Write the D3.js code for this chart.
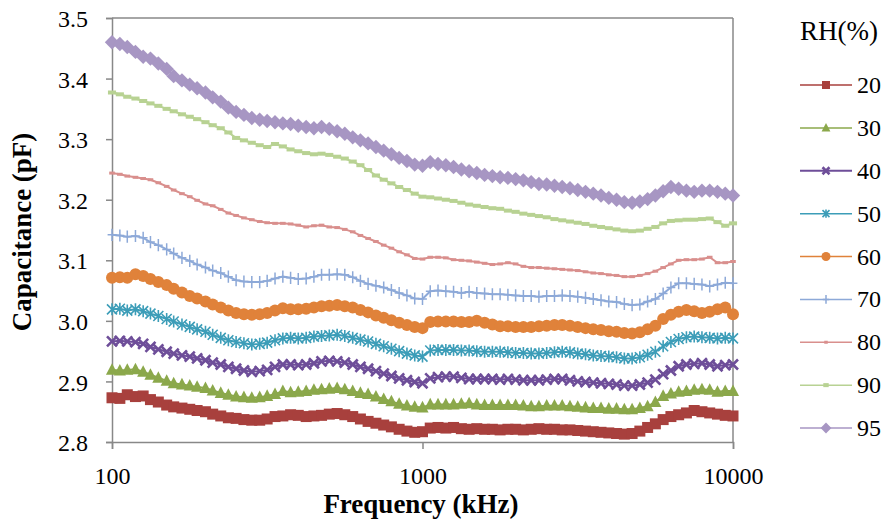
<!DOCTYPE html>
<html>
<head>
<meta charset="utf-8">
<script src="https://cdn.jsdelivr.net/npm/d3@7"></script>
<style>
  html, body { margin: 0; padding: 0; background: #fff; }
</style>
</head>
<body>
<svg id="chart" width="887" height="524"></svg>
<script>
// Frequency sweep (kHz), logarithmically spaced
const frequency = [100,106,112,119,126,133,141,150,158,168,178,188,200,211,224,237,251,266,282,299,316,335,355,376,398,422,447,473,501,531,562,596,631,668,708,750,794,841,891,944,1000,1059,1122,1189,1259,1334,1413,1496,1585,1679,1778,1884,1995,2113,2239,2371,2512,2661,2818,2985,3162,3350,3548,3758,3981,4217,4467,4732,5012,5309,5623,5957,6310,6683,7079,7499,7943,8414,8913,9441,10000];

// Capacitance (pF) at each relative humidity
const rh20 = [2.873,2.872,2.878,2.875,2.876,2.870,2.866,2.861,2.858,2.856,2.854,2.852,2.850,2.846,2.843,2.840,2.839,2.837,2.836,2.836,2.838,2.842,2.843,2.845,2.844,2.842,2.843,2.844,2.846,2.847,2.845,2.842,2.838,2.834,2.831,2.828,2.825,2.821,2.818,2.816,2.817,2.823,2.824,2.823,2.824,2.822,2.821,2.822,2.821,2.821,2.820,2.821,2.821,2.820,2.821,2.822,2.821,2.821,2.820,2.820,2.819,2.818,2.817,2.816,2.815,2.814,2.813,2.814,2.818,2.824,2.830,2.837,2.842,2.845,2.848,2.852,2.850,2.848,2.846,2.844,2.843];
const rh30 = [2.919,2.918,2.919,2.920,2.916,2.911,2.906,2.901,2.897,2.895,2.893,2.891,2.889,2.885,2.881,2.878,2.875,2.874,2.873,2.874,2.876,2.879,2.884,2.882,2.883,2.884,2.886,2.887,2.888,2.889,2.887,2.884,2.881,2.879,2.875,2.871,2.867,2.863,2.860,2.858,2.857,2.862,2.862,2.862,2.862,2.863,2.864,2.862,2.861,2.861,2.861,2.861,2.861,2.860,2.859,2.859,2.860,2.860,2.860,2.859,2.858,2.857,2.856,2.856,2.855,2.855,2.854,2.854,2.856,2.859,2.866,2.876,2.880,2.883,2.884,2.886,2.887,2.886,2.883,2.884,2.884];
const rh40 = [2.966,2.967,2.966,2.965,2.962,2.957,2.953,2.949,2.946,2.943,2.941,2.938,2.935,2.931,2.928,2.924,2.921,2.918,2.916,2.917,2.919,2.924,2.928,2.928,2.927,2.928,2.930,2.933,2.934,2.933,2.931,2.928,2.924,2.921,2.917,2.913,2.909,2.905,2.902,2.899,2.897,2.905,2.907,2.908,2.908,2.906,2.904,2.904,2.904,2.904,2.903,2.904,2.903,2.902,2.902,2.902,2.903,2.904,2.904,2.902,2.900,2.899,2.898,2.897,2.896,2.895,2.893,2.893,2.895,2.898,2.903,2.912,2.918,2.925,2.928,2.929,2.930,2.928,2.925,2.927,2.928];
const rh50 = [3.019,3.020,3.017,3.019,3.016,3.012,3.008,3.003,2.999,2.994,2.990,2.986,2.982,2.977,2.972,2.968,2.965,2.963,2.961,2.962,2.964,2.968,2.971,2.972,2.971,2.972,2.974,2.975,2.976,2.977,2.975,2.972,2.969,2.966,2.962,2.958,2.954,2.950,2.946,2.943,2.941,2.951,2.952,2.952,2.952,2.951,2.951,2.950,2.949,2.949,2.949,2.948,2.947,2.947,2.946,2.946,2.947,2.948,2.949,2.948,2.946,2.945,2.943,2.942,2.941,2.940,2.938,2.938,2.940,2.944,2.949,2.958,2.965,2.970,2.973,2.974,2.973,2.972,2.971,2.972,2.971];
const rh60 = [3.071,3.072,3.071,3.077,3.074,3.069,3.064,3.059,3.053,3.047,3.041,3.037,3.032,3.027,3.022,3.017,3.013,3.011,3.010,3.011,3.013,3.017,3.021,3.019,3.019,3.020,3.022,3.024,3.025,3.026,3.024,3.022,3.018,3.014,3.009,3.005,3.001,2.997,2.993,2.990,2.988,2.998,2.999,2.999,2.999,2.998,2.998,3.000,2.997,2.994,2.991,2.991,2.990,2.990,2.990,2.991,2.992,2.993,2.993,2.992,2.990,2.988,2.986,2.985,2.983,2.982,2.980,2.979,2.981,2.986,2.992,3.003,3.010,3.015,3.018,3.016,3.013,3.015,3.019,3.022,3.011];
const rh70 = [3.142,3.141,3.139,3.140,3.137,3.130,3.125,3.118,3.111,3.104,3.099,3.093,3.088,3.083,3.079,3.073,3.067,3.065,3.064,3.064,3.066,3.070,3.073,3.071,3.069,3.070,3.073,3.076,3.076,3.077,3.076,3.072,3.066,3.061,3.058,3.055,3.051,3.046,3.042,3.037,3.036,3.049,3.050,3.049,3.048,3.046,3.048,3.046,3.045,3.044,3.044,3.043,3.042,3.041,3.041,3.040,3.041,3.041,3.042,3.041,3.040,3.038,3.036,3.034,3.032,3.031,3.028,3.026,3.027,3.032,3.036,3.045,3.055,3.062,3.062,3.061,3.060,3.057,3.060,3.063,3.062];
const rh80 = [3.244,3.242,3.239,3.237,3.235,3.233,3.228,3.222,3.216,3.210,3.205,3.199,3.193,3.190,3.184,3.178,3.174,3.170,3.167,3.164,3.162,3.161,3.161,3.160,3.158,3.155,3.157,3.158,3.155,3.154,3.151,3.147,3.141,3.136,3.131,3.125,3.120,3.114,3.109,3.103,3.102,3.105,3.105,3.104,3.101,3.100,3.099,3.097,3.095,3.093,3.094,3.096,3.094,3.090,3.088,3.088,3.087,3.086,3.085,3.084,3.083,3.081,3.079,3.078,3.076,3.075,3.073,3.073,3.075,3.078,3.082,3.088,3.094,3.100,3.101,3.101,3.102,3.105,3.096,3.096,3.098];
const rh90 = [3.377,3.374,3.370,3.367,3.363,3.359,3.355,3.350,3.346,3.341,3.337,3.333,3.328,3.323,3.318,3.311,3.302,3.298,3.294,3.290,3.287,3.292,3.288,3.283,3.280,3.277,3.275,3.276,3.274,3.271,3.268,3.263,3.257,3.249,3.240,3.233,3.227,3.221,3.216,3.210,3.205,3.204,3.202,3.200,3.198,3.195,3.192,3.190,3.188,3.186,3.185,3.182,3.180,3.177,3.175,3.173,3.171,3.168,3.166,3.164,3.162,3.160,3.157,3.155,3.153,3.151,3.149,3.148,3.149,3.152,3.155,3.161,3.165,3.166,3.167,3.167,3.168,3.169,3.163,3.157,3.161];
const rh95 = [3.460,3.457,3.452,3.444,3.436,3.433,3.425,3.416,3.404,3.397,3.390,3.384,3.377,3.369,3.362,3.352,3.345,3.340,3.335,3.332,3.330,3.328,3.326,3.325,3.322,3.320,3.318,3.320,3.317,3.313,3.309,3.303,3.298,3.293,3.287,3.281,3.275,3.269,3.264,3.258,3.256,3.262,3.259,3.257,3.254,3.250,3.247,3.244,3.241,3.239,3.237,3.236,3.234,3.232,3.229,3.226,3.225,3.223,3.221,3.219,3.216,3.213,3.210,3.207,3.203,3.200,3.196,3.195,3.197,3.201,3.207,3.214,3.221,3.218,3.215,3.213,3.215,3.215,3.213,3.210,3.207];

const rhLabels = ["20","30","40","50","60","70","80","90","95"];
const yTicks = [2.8, 2.9, 3.0, 3.1, 3.2, 3.3, 3.4, 3.5];
const xTicks = [100, 1000, 10000];

const seriesValues = [rh20, rh30, rh40, rh50, rh60, rh70, rh80, rh90, rh95];
const styles = [
  { color: "#A8403D", marker: "square" },
  { color: "#8BA84B", marker: "triangle" },
  { color: "#6E4E99", marker: "cross" },
  { color: "#3C9DB8", marker: "asterisk" },
  { color: "#E0823A", marker: "circle" },
  { color: "#8DA9D8", marker: "plus" },
  { color: "#D98F8D", marker: "smalldash" },
  { color: "#B8D293", marker: "dash" },
  { color: "#A796C3", marker: "diamond" }
];

const FONT = "'Liberation Serif'";

const svg = d3.select("#chart");
const plot = { left: 112, right: 733, top: 18, bottom: 442 };

const x = d3.scaleLog().domain([100, 10000]).range([plot.left, plot.right]);
const y = d3.scaleLinear().domain([2.8, 3.5]).range([plot.bottom, plot.top]);

const axisColor = "#888888";

// Plot frame (top and right)
svg.append("line").attr("x1", plot.left).attr("x2", plot.right).attr("y1", plot.top).attr("y2", plot.top)
  .attr("stroke", axisColor).attr("stroke-width", 1.5);
svg.append("line").attr("x1", plot.right).attr("x2", plot.right).attr("y1", plot.top).attr("y2", plot.bottom)
  .attr("stroke", axisColor).attr("stroke-width", 1.5);

// Y axis
const yAxis = d3.axisLeft(y).tickValues(yTicks).tickFormat(d3.format(".1f")).tickSize(6).tickPadding(18);
const gy = svg.append("g").attr("transform", `translate(${plot.left},0)`).call(yAxis);
gy.attr("font-family", FONT).attr("font-size", 24);
gy.select(".domain").attr("stroke", axisColor).attr("stroke-width", 1.5);
gy.selectAll(".tick line").attr("stroke", axisColor).attr("stroke-width", 1.5);
gy.selectAll(".tick text").style("font-family", FONT).style("font-size", "24px").attr("fill", "#000").attr("dy", "0.36em");

// X axis
const xAxis = d3.axisBottom(x).tickValues(xTicks).tickFormat(d3.format("d")).tickSize(7).tickPadding(13);
const gx = svg.append("g").attr("transform", `translate(0,${plot.bottom})`).call(xAxis);
gx.attr("font-family", FONT).attr("font-size", 24);
gx.select(".domain").attr("stroke", axisColor).attr("stroke-width", 1.5);
gx.selectAll(".tick line").attr("stroke", axisColor).attr("stroke-width", 1.5);
gx.selectAll(".tick text").style("font-family", FONT).style("font-size", "24px").attr("fill", "#000")
  .attr("y", 42).attr("dy", 0);

// Axis titles
svg.append("text").attr("x", 421).attr("y", 513).attr("text-anchor", "middle")
  .style("font-family", FONT).style("font-size", "27px").style("font-weight", "bold").text("Frequency (kHz)");
svg.append("text").attr("transform", "translate(31,232) rotate(-90)").attr("text-anchor", "middle")
  .style("font-family", FONT).style("font-size", "27px").style("font-weight", "bold").text("Capacitance (pF)");

// Marker drawing
function drawMarker(sel, type, color, s) {
  switch (type) {
    case "square":
      sel.append("rect").attr("x", -s/2).attr("y", -s/2).attr("width", s).attr("height", s).attr("fill", color);
      break;
    case "triangle":
      sel.append("path").attr("d", `M0,${-s*0.6}L${s*0.55},${s*0.45}L${-s*0.55},${s*0.45}Z`).attr("fill", color);
      break;
    case "cross":
      sel.append("path").attr("d", `M${-s/2},${-s/2}L${s/2},${s/2}M${-s/2},${s/2}L${s/2},${-s/2}`)
        .attr("stroke", color).attr("stroke-width", 2.6).attr("fill", "none");
      break;
    case "asterisk":
      sel.append("path").attr("d", `M${-s/2},${-s/2}L${s/2},${s/2}M${-s/2},${s/2}L${s/2},${-s/2}M0,${-s*0.6}L0,${s*0.6}`)
        .attr("stroke", color).attr("stroke-width", 1.6).attr("fill", "none");
      break;
    case "circle":
      sel.append("circle").attr("r", s/2).attr("fill", color);
      break;
    case "plus":
      sel.append("path").attr("d", `M${-s*0.4},0L${s*0.4},0M0,${-s*0.55},L0,${s*0.55}`)
        .attr("stroke", color).attr("stroke-width", 1.5).attr("fill", "none");
      break;
    case "smalldash":
      sel.append("rect").attr("x", -s*0.35).attr("y", -1.5).attr("width", s*0.7).attr("height", 3).attr("fill", color);
      break;
    case "dash":
      sel.append("rect").attr("x", -s*0.45).attr("y", -2).attr("width", s*0.9).attr("height", 4).attr("fill", color);
      break;
    case "diamond":
      sel.append("path").attr("d", `M0,${-s*0.6}L${s*0.6},0L0,${s*0.6}L${-s*0.6},0Z`).attr("fill", color);
      break;
  }
}

const markerSize = [11, 11, 10, 10, 12, 11, 8, 9, 12];

const line = d3.line().x(d => x(d.f)).y(d => y(d.c));

seriesValues.forEach((vals, k) => {
  const pts = frequency.map((f, i) => ({ f, c: vals[i] }));
  const st = styles[k];
  const g = svg.append("g").attr("class", "series");
  g.append("path").datum(pts).attr("d", line)
    .attr("fill", "none").attr("stroke", st.color).attr("stroke-width", 2);
  g.selectAll("g.pt").data(pts).join("g").attr("class", "pt")
    .attr("transform", d => `translate(${x(d.f)},${y(d.c)})`)
    .each(function() { drawMarker(d3.select(this), st.marker, st.color, markerSize[k]); });
});

// Legend
svg.append("text").attr("x", 800).attr("y", 40).style("font-family", FONT).style("font-size", "27px").text("RH(%)");
const legendY = d3.scalePoint().domain(rhLabels).range([85, 428]);
rhLabels.forEach((lab, k) => {
  const st = styles[k];
  const yy = legendY(lab);
  const g = svg.append("g").attr("transform", `translate(0,${yy})`);
  g.append("line").attr("x1", 800).attr("x2", 852).attr("y1", 0).attr("y2", 0)
    .attr("stroke", st.color).attr("stroke-width", k === 2 ? 2 : 1.5);
  const m = g.append("g").attr("transform", "translate(826,0)");
  drawMarker(m, st.marker, st.color, markerSize[k] - 3);
  g.append("text").attr("x", 857).attr("y", 8).style("font-family", FONT).style("font-size", "24px").text(lab);
});
</script>
</body>
</html>
